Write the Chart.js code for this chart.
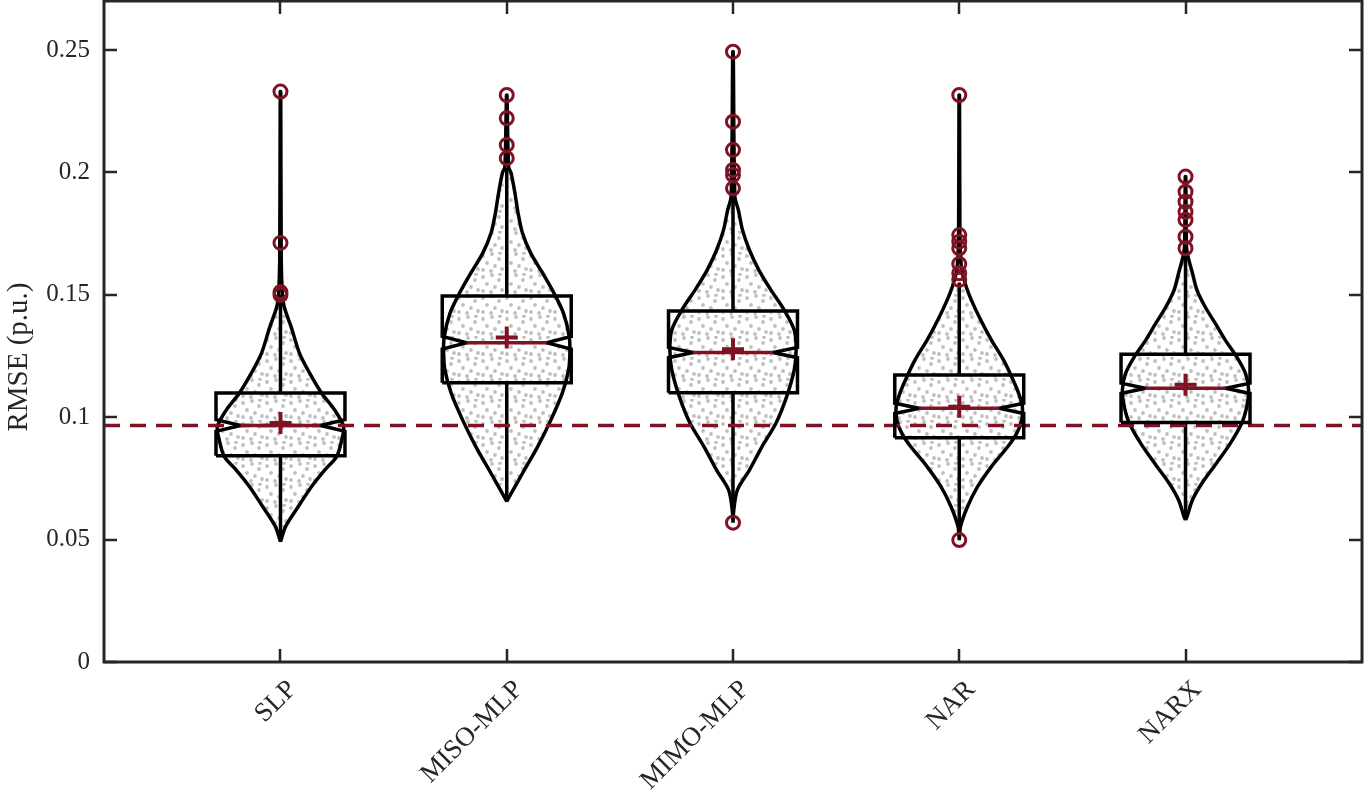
<!DOCTYPE html>
<html lang="en">
  <head>
    <meta charset="UTF-8" />
    <title>RMSE violin plot</title>
    <style>
      html, body { margin: 0; padding: 0; background: #fff; }
      #wrap { position: relative; width: 1364px; height: 793px; }
    </style>
  </head>
  <body>
    <div id="wrap"><canvas id="violinChart"></canvas></div>
    <script src="https://cdn.jsdelivr.net/npm/chart.js"></script>
    <script>
      // categories and box statistics
      const categories = ["SLP", "MISO-MLP", "MIMO-MLP", "NAR", "NARX"];
      const q1 = [0.0842, 0.1141, 0.1100, 0.0916, 0.0978];
      const q3 = [0.1099, 0.1495, 0.1434, 0.1172, 0.1257];
      const medians = [0.0966, 0.1304, 0.1264, 0.1036, 0.1118];
      const means = [0.0976, 0.1326, 0.1277, 0.1043, 0.1132];
      const notchDepth = [0.0024, 0.0026, 0.0021, 0.0021, 0.0021];
      const whiskerLow = [0.0500, 0.0660, 0.0640, 0.0560, 0.0590];
      const whiskerHigh = [0.1500, 0.2020, 0.1900, 0.1550, 0.1680];
      const referenceRMSE = 0.0966;
      const yTicks = [0, 0.05, 0.1, 0.15, 0.2, 0.25];
      const yTitle = "RMSE (p.u.)";

      // outliers per model
      const outliersSLP = [0.2330, 0.1712, 0.1511, 0.1499];
      const outliersMISO = [0.2316, 0.2221, 0.2112, 0.2058];
      const outliersMIMO = [0.2493, 0.2207, 0.2092, 0.2010, 0.1989, 0.1935, 0.0569];
      const outliersNAR = [0.2316, 0.1744, 0.1717, 0.1690, 0.1626, 0.1588, 0.1561, 0.0498];
      const outliersNARX = [0.1983, 0.1921, 0.1880, 0.1839, 0.1806, 0.1737, 0.1690];

      // violin outlines: RMSE value and relative density width (0..1)
      const violinValuesSLP = [0.0491, 0.0553, 0.0634, 0.0716, 0.0784, 0.0839, 0.0907, 0.0961, 0.1029, 0.1099, 0.1181, 0.1262, 0.1368, 0.1450, 0.1507, 0.1640, 0.2330];
      const violinWidthsSLP = [0, 0.08, 0.28, 0.49, 0.70, 0.89, 0.97, 1, 0.86, 0.65, 0.46, 0.30, 0.17, 0.06, 0.03, 0.012, 0.004];
      const violinValuesMISO = [0.0655, 0.0689, 0.0771, 0.0880, 0.0989, 0.1098, 0.1193, 0.1261, 0.1329, 0.1424, 0.1506, 0.1588, 0.1670, 0.1751, 0.1833, 0.1915, 0.1996, 0.2023, 0.2316];
      const violinWidthsMISO = [0, 0.07, 0.25, 0.49, 0.70, 0.88, 0.98, 1, 0.99, 0.90, 0.75, 0.57, 0.38, 0.25, 0.18, 0.13, 0.07, 0.03, 0.004];
      const violinValuesMIMO = [0.0569, 0.0621, 0.0703, 0.0784, 0.0880, 0.0975, 0.1084, 0.1193, 0.1275, 0.1356, 0.1438, 0.1520, 0.1601, 0.1683, 0.1765, 0.1846, 0.1901, 0.2493];
      const violinWidthsMIMO = [0, 0.012, 0.07, 0.26, 0.46, 0.68, 0.85, 0.97, 1, 0.97, 0.81, 0.60, 0.41, 0.26, 0.15, 0.085, 0.03, 0.004];
      const violinValuesNAR = [0.0498, 0.0553, 0.0634, 0.0716, 0.0798, 0.0880, 0.0934, 0.0989, 0.1043, 0.1098, 0.1165, 0.1234, 0.1315, 0.1397, 0.1479, 0.1533, 0.1588, 0.1642, 0.1765, 0.2316];
      const violinWidthsNAR = [0, 0.02, 0.13, 0.29, 0.51, 0.77, 0.91, 0.99, 1, 0.94, 0.83, 0.70, 0.51, 0.34, 0.19, 0.11, 0.05, 0.024, 0.01, 0.004];
      const violinValuesNARX = [0.0580, 0.0594, 0.0662, 0.0730, 0.0812, 0.0893, 0.0975, 0.1043, 0.1111, 0.1179, 0.1247, 0.1315, 0.1384, 0.1451, 0.1520, 0.1588, 0.1656, 0.1700, 0.1983];
      const violinWidthsNARX = [0, 0.024, 0.11, 0.26, 0.49, 0.71, 0.89, 0.97, 1, 0.95, 0.81, 0.63, 0.47, 0.31, 0.18, 0.11, 0.04, 0.015, 0.004];

      const outliers = [outliersSLP, outliersMISO, outliersMIMO, outliersNAR, outliersNARX];
      const violinValues = [violinValuesSLP, violinValuesMISO, violinValuesMIMO, violinValuesNAR, violinValuesNARX];
      const violinWidths = [violinWidthsSLP, violinWidthsMISO, violinWidthsMIMO, violinWidthsNAR, violinWidthsNARX];

      // styling
      const RED = "#7f1223";
      const AXIS = "#262626";
      const VIOLIN_HALF = 0.279;
      const BOX_HALF = 0.285;
      const NOTCH_HALF = 0.177;
      const LINE_W = 3.5;
      const FONT = "'Liberation Serif', 'Times New Roman', serif";

      // grey speckle texture for the violin bodies
      function speckle() {
        const c = document.createElement("canvas");
        c.width = 24;
        c.height = 21;
        const g = c.getContext("2d");
        g.fillStyle = "#bfbfbf";
        [[3, 4], [12, 2], [19, 7], [7, 11], [15, 14], [22, 17], [3, 18], [11, 19], [20, 1]].forEach(([x, y]) => {
          g.beginPath();
          g.arc(x, y, 1.9, 0, Math.PI * 2);
          g.fill();
        });
        return g.createPattern(c, "repeat");
      }
      const dots = speckle();

      const datasets = [];

      categories.forEach((name, i) => {
        const c = i + 1;
        const left = violinValues[i].map((v, k) => ({ x: c - violinWidths[i][k] * VIOLIN_HALF, y: v }));
        const right = violinValues[i].map((v, k) => ({ x: c + violinWidths[i][k] * VIOLIN_HALF, y: v })).reverse();
        datasets.push({
          label: name + " violin",
          data: left.concat(right),
          showLine: true,
          pointRadius: 0,
          borderColor: "#000",
          borderWidth: LINE_W,
          backgroundColor: dots,
          fill: "shape",
          tension: 0.3,
          order: 10,
        });

        datasets.push({
          label: name + " whiskers",
          data: [
            { x: c, y: whiskerLow[i] }, { x: c, y: q1[i] }, { x: c, y: null },
            { x: c, y: q3[i] }, { x: c, y: whiskerHigh[i] },
          ],
          showLine: true,
          spanGaps: false,
          pointRadius: 0,
          borderColor: "#000",
          borderWidth: LINE_W,
          order: 8,
        });

        const m = medians[i], d = notchDepth[i];
        datasets.push({
          label: name + " box",
          data: [
            { x: c - BOX_HALF, y: q1[i] }, { x: c - BOX_HALF, y: m - d }, { x: c - NOTCH_HALF, y: m },
            { x: c - BOX_HALF, y: m + d }, { x: c - BOX_HALF, y: q3[i] }, { x: c + BOX_HALF, y: q3[i] },
            { x: c + BOX_HALF, y: m + d }, { x: c + NOTCH_HALF, y: m }, { x: c + BOX_HALF, y: m - d },
            { x: c + BOX_HALF, y: q1[i] }, { x: c - BOX_HALF, y: q1[i] },
          ],
          showLine: true,
          pointRadius: 0,
          borderColor: "#000",
          borderWidth: LINE_W,
          borderJoinStyle: "miter",
          order: 5,
        });

        datasets.push({
          label: name + " median",
          data: [{ x: c - NOTCH_HALF, y: m }, { x: c + NOTCH_HALF, y: m }],
          showLine: true,
          pointRadius: 0,
          borderColor: RED,
          borderWidth: 3.5,
          order: 4,
        });

        datasets.push({
          label: name + " outliers",
          data: outliers[i].map((v) => ({ x: c, y: v })),
          pointStyle: "circle",
          pointRadius: 6.5,
          pointBorderWidth: 3,
          borderColor: RED,
          backgroundColor: "rgba(0,0,0,0)",
          order: 1,
        });
      });

      datasets.push({
        label: "reference",
        data: [{ x: 0.22, y: referenceRMSE }, { x: 5.78, y: referenceRMSE }],
        showLine: true,
        pointRadius: 0,
        borderColor: RED,
        borderWidth: 3.5,
        borderDash: [16, 10],
        order: 6,
      });

      datasets.push({
        label: "mean",
        data: means.map((v, i) => ({ x: i + 1, y: v })),
        pointStyle: "cross",
        pointRadius: 11,
        pointBorderWidth: 4,
        borderColor: RED,
        order: 2,
      });

      // MATLAB style box with inward ticks, plus the y label placed like the original
      const boxAxes = {
        id: "boxAxes",
        afterDraw(chart) {
          const { ctx, chartArea: a, scales } = chart;
          ctx.save();
          ctx.strokeStyle = AXIS;
          ctx.lineWidth = 2.5;
          scales.y.ticks.forEach((t) => {
            const y = Math.round(scales.y.getPixelForValue(t.value));
            ctx.beginPath();
            ctx.moveTo(a.left, y); ctx.lineTo(a.left + 13, y);
            ctx.moveTo(a.right, y); ctx.lineTo(a.right - 13, y);
            ctx.stroke();
          });
          scales.x.ticks.forEach((t) => {
            const x = Math.round(scales.x.getPixelForValue(t.value));
            ctx.beginPath();
            ctx.moveTo(x, a.bottom); ctx.lineTo(x, a.bottom - 13);
            ctx.moveTo(x, a.top); ctx.lineTo(x, a.top + 13);
            ctx.stroke();
          });
          ctx.lineWidth = 3;
          ctx.strokeRect(a.left, a.top, a.right - a.left, a.bottom - a.top);

          ctx.translate(19, 357);
          ctx.rotate(-Math.PI / 2);
          ctx.fillStyle = AXIS;
          ctx.font = "29px " + FONT;
          ctx.textAlign = "center";
          ctx.textBaseline = "middle";
          ctx.fillText(yTitle, 0, 0);
          ctx.restore();
        },
      };

      const noPad = (axis) => {
        axis.paddingTop = 0;
        axis.paddingBottom = 0;
        axis.paddingLeft = 0;
        axis.paddingRight = 0;
      };

      new Chart(document.getElementById("violinChart"), {
        type: "scatter",
        data: { datasets },
        plugins: [boxAxes],
        options: {
          responsive: true,
          maintainAspectRatio: false,
          animation: false,
          layout: { autoPadding: false, padding: { top: 1, right: 2, left: 0, bottom: 0 } },
          plugins: { legend: { display: false }, tooltip: { enabled: false } },
          scales: {
            x: {
              type: "linear",
              min: 0.22,
              max: 5.78,
              grid: { display: false, drawTicks: false },
              border: { display: false },
              afterBuildTicks: (axis) => {
                axis.ticks = categories.map((_, i) => ({ value: i + 1 }));
              },
              afterFit: (axis) => { axis.height = 131; noPad(axis); },
              ticks: {
                autoSkip: false,
                minRotation: 45,
                maxRotation: 45,
                padding: 12,
                labelOffset: 12,
                color: AXIS,
                font: { family: FONT, size: 27 },
                callback: (v) => categories[Math.round(v) - 1] || "",
              },
            },
            y: {
              min: 0,
              max: 0.27,
              grid: { display: false, drawTicks: false },
              border: { display: false },
              afterBuildTicks: (axis) => {
                axis.ticks = yTicks.map((v) => ({ value: v }));
              },
              afterFit: (axis) => { axis.width = 104; noPad(axis); },
              ticks: {
                padding: 14,
                color: AXIS,
                font: { family: FONT, size: 25 },
                callback: (v) => String(+v.toFixed(2)),
              },
            },
          },
        },
      });
    </script>
  </body>
</html>
